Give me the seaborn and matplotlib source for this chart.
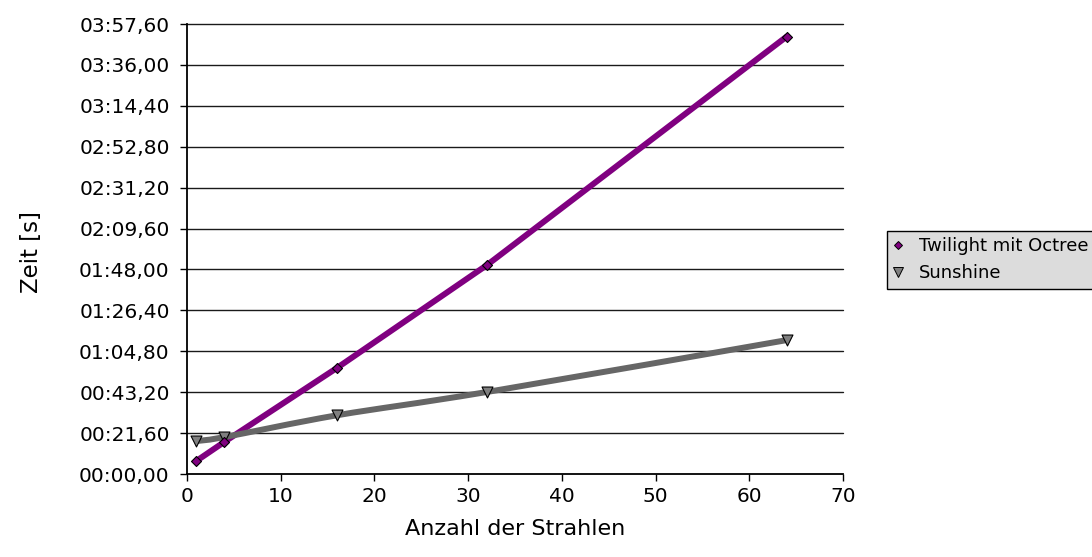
import numpy as np
import pandas as pd
import matplotlib
matplotlib.use("Agg")
import matplotlib.pyplot as plt
from matplotlib.path import Path
from matplotlib.patches import PathPatch
from matplotlib.lines import Line2D
from matplotlib.ticker import FuncFormatter, MultipleLocator
import seaborn as sns

# Measured run times (seconds) versus number of rays
rays = [1, 4, 16, 32, 64]
twilight_octree = [6.9, 17.0, 56.0, 110.3, 231.0]
sunshine = [17.4, 19.5, 31.0, 43.3, 70.7]
series_names = ["Twilight mit Octree", "Sunshine"]

x_label = "Anzahl der Strahlen"
y_label = "Zeit [s]"

df = pd.DataFrame({
    "rays": rays * 2,
    "time": twilight_octree + sunshine,
    "series": [series_names[0]] * len(rays) + [series_names[1]] * len(rays),
})

sns.set_theme(style="white")
plt.rcParams["font.family"] = ["DejaVu Sans"]
plt.rcParams["text.color"] = "black"

PURPLE = "#800080"
GRAY_LINE = "#666666"
GRAY_MARK = "#7f7f7f"

fig = plt.figure(figsize=(10.92, 5.57), dpi=100)
ax = fig.add_axes([187 / 1092, 83 / 557, 656 / 1092, 450 / 557])

XMAX, YMAX, YSTEP = 70, 237.6, 21.6
ax.set_xlim(0, XMAX)
ax.set_ylim(0, YMAX)

# Horizontal grid at each major time step
for v in np.arange(YSTEP, YMAX + 1e-6, YSTEP):
    ax.axhline(v, color="#1a1a1a", lw=1.0, zorder=1, clip_on=False)

# Twilight: straight line through the points
sns.lineplot(data=df[df.series == series_names[0]], x="rays", y="time",
             color=PURPLE, lw=4.3, ax=ax, legend=False, zorder=3)


def smooth_path(xs, ys, sx, sy):
    """Catmull-Rom style Bezier through the points, computed in screen-like units."""
    P = np.column_stack([np.asarray(xs, float) * sx, np.asarray(ys, float) * sy])
    n = len(P)
    verts = [P[0]]
    codes = [Path.MOVETO]
    for i in range(n - 1):
        p_prev = P[i - 1] if i > 0 else P[i]
        p_next2 = P[i + 2] if i + 2 < n else P[i + 1]
        c1 = P[i] + (P[i + 1] - p_prev) / 6.0
        c2 = P[i + 1] - (p_next2 - P[i]) / 6.0
        verts += [c1, c2, P[i + 1]]
        codes += [Path.CURVE4] * 3
    verts = np.array(verts)
    verts[:, 0] /= sx
    verts[:, 1] /= sy
    return Path(verts, codes)


sx = 656 / XMAX
sy = 450 / YMAX
ax.add_patch(PathPatch(smooth_path(rays, sunshine, sx, sy), fill=False,
                       edgecolor=GRAY_LINE, lw=4.3, zorder=3,
                       transform=ax.transData))

# Markers
sns.scatterplot(data=df[df.series == series_names[1]], x="rays", y="time",
                marker="v", s=62, color=GRAY_MARK, edgecolor="black",
                linewidth=0.8, ax=ax, legend=False, zorder=4)
sns.scatterplot(data=df[df.series == series_names[0]], x="rays", y="time",
                marker="D", s=26, color=PURPLE, edgecolor="black",
                linewidth=0.8, ax=ax, legend=False, zorder=5)


def fmt_time(v, pos=None):
    v = round(v, 2)
    m = int(v // 60)
    s = v - 60 * m
    return f"{m:02d}:{s:05.2f}".replace(".", ",")


ax.yaxis.set_major_locator(MultipleLocator(YSTEP))
ax.yaxis.set_major_formatter(FuncFormatter(fmt_time))
ax.xaxis.set_major_locator(MultipleLocator(10))

for side in ("top", "right"):
    ax.spines[side].set_visible(False)
for side in ("left", "bottom"):
    ax.spines[side].set_color("black")
    ax.spines[side].set_linewidth(1.3)

ax.tick_params(axis="both", which="major", direction="out", length=5,
               width=1.0, color="black", labelsize=14.5, labelcolor="black",
               left=True, bottom=True)
ax.tick_params(axis="y", pad=7.5)
ax.tick_params(axis="x", pad=4)

ax.set_xlabel(x_label, fontsize=16, color="black")
ax.set_ylabel(y_label, fontsize=16.5, color="black")
ax.xaxis.set_label_coords(0.5, -0.1)
ax.yaxis.set_label_coords(-0.22, 0.493)

handles = [
    Line2D([], [], linestyle="none", marker="D", markersize=4.2,
           markerfacecolor=PURPLE, markeredgecolor="black", markeredgewidth=0.7),
    Line2D([], [], linestyle="none", marker="v", markersize=6.8,
           markerfacecolor=GRAY_MARK, markeredgecolor="black", markeredgewidth=0.7),
]
leg = fig.legend(handles, series_names, loc="lower left",
                 bbox_to_anchor=(887 / 1092, 268 / 557), fontsize=13,
                 frameon=True, fancybox=False, handlelength=0.5,
                 handletextpad=0.9, borderpad=0.36, labelspacing=0.5,
                 borderaxespad=0, labelcolor="black")
leg.get_frame().set_facecolor("#dcdcdc")
leg.get_frame().set_edgecolor("black")
leg.get_frame().set_linewidth(1.0)
leg.get_frame().set_alpha(1)

fig.savefig("out.png", dpi=100, facecolor="white")
